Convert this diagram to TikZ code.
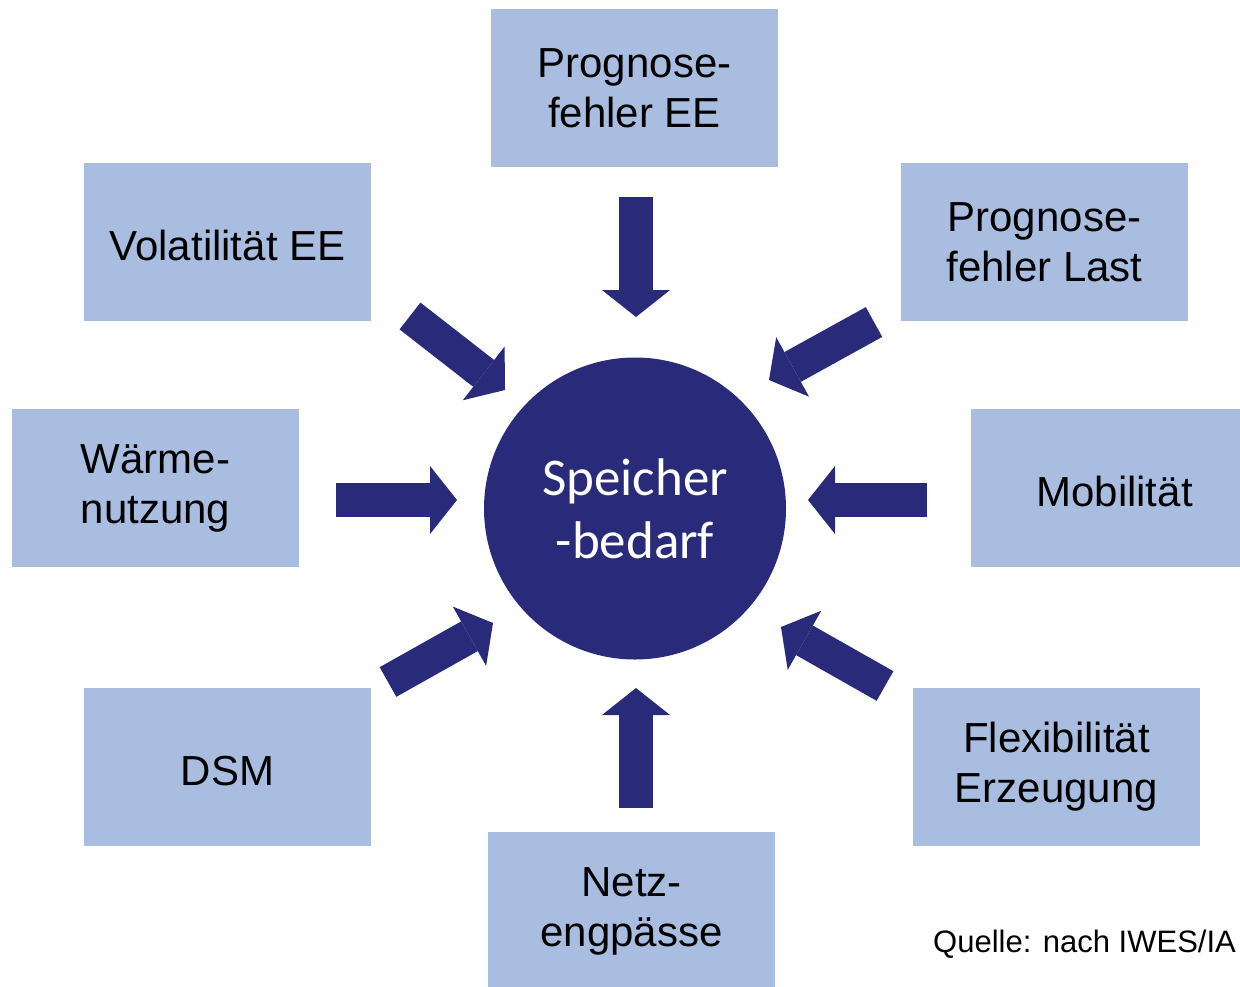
\documentclass[tikz,border=0pt]{standalone}
\usepackage{fontspec}
\setmainfont{Liberation Sans}
\newfontfamily\calibri{Carlito}
\usetikzlibrary{arrows.meta,positioning}
\definecolor{boxblue}{HTML}{A9BDE0}
\definecolor{navy}{HTML}{2A2A7B}

\begin{document}
\begin{tikzpicture}[
    x=1pt, y=-1pt,
    box/.style={rectangle, fill=boxblue, minimum width=287pt, minimum height=158pt, inner sep=0pt, align=center, font=\fontsize{42}{50}\selectfont, execute at begin node={\rule{0pt}{37pt}}},
    arrow/.style={draw=navy, line width=34pt, -{Triangle[width=68pt, length=27pt, line width=0pt]}}
]
    \useasboundingbox (0,0) rectangle (1240,986);

    \node[circle, fill=navy, minimum size=302pt, inner sep=0pt, text=white, align=center, font=\calibri\fontsize{53}{63}\selectfont] (bedarf) at (635,508.5) {Speicher\\-bedarf};

    \node[box] (prog) at (634.5,88) {Prognose-\\fehler EE};
    \node[box] (vola) at (227.5,242) {Volatilität EE};
    \node[box] (last) at (1044.5,242) {Prognose-\\fehler Last};
    \node[box] (waerme) at (155.5,488) {Wärme-\\nutzung};
    \node[box] (mobil) at (1114.5,488) {Mobilität};
    \node[box] (dsm) at (227.5,767) {DSM};
    \node[box] (flex) at (1056.5,767) {Flexibilität\\Erzeugung};
    \node[box] (netz) at (631.5,911) {Netz-\\engpässe};

    \node[anchor=base west, inner sep=0pt, font=\fontsize{31}{36}\selectfont] (quelle) at (933,952) {Quelle: nach IWES/IA};

    % arrow ends
    \coordinate (progT) at (636,197);  \coordinate (progH) at (636,317);
    \coordinate (netzT) at (636,808);  \coordinate (netzH) at (636,688);
    \coordinate (waermeT) at (336,500); \coordinate (waermeH) at (457,500);
    \coordinate (mobilT) at (927,500); \coordinate (mobilH) at (808,500);
    \coordinate (volaT) at (410,316);  \coordinate (volaH) at (505,390);
    \coordinate (lastT) at (874,322);  \coordinate (lastH) at (769,380);
    \coordinate (dsmT) at (388,682);   \coordinate (dsmH) at (493,623);
    \coordinate (flexT) at (885,686);  \coordinate (flexH) at (781,627);

    \draw[arrow] (progT) -- (progH);
    \draw[arrow] (netzT) -- (netzH);
    \draw[arrow] (waermeT) -- (waermeH);
    \draw[arrow] (mobilT) -- (mobilH);
    \draw[arrow] (volaT) -- (volaH);
    \draw[arrow] (lastT) -- (lastH);
    \draw[arrow] (dsmT) -- (dsmH);
    \draw[arrow] (flexT) -- (flexH);
\end{tikzpicture}
\end{document}
